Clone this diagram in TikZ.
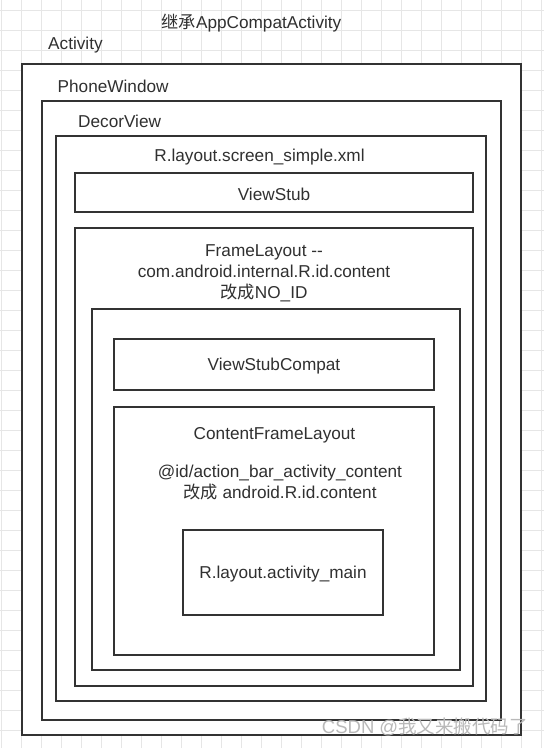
\documentclass[tikz,border=0pt]{standalone}
\usepackage{fontspec}
\setmainfont{Liberation Sans}
\newfontfamily\cjk{Noto Sans CJK SC}
\definecolor{boxline}{HTML}{333333}
\definecolor{gridline}{HTML}{E6E6E6}
\definecolor{txt}{HTML}{303030}
\tikzset{
  box/.style={draw=boxline, line width=2.6pt, fill=white, inner sep=0pt},
  lbl/.style={text=txt, font=\fontsize{17.2}{21}\selectfont, align=center, inner sep=0pt, yshift=-2pt},
  watermarktxt/.style={text=gray!55, font=\fontsize{18.5}{20}\selectfont, inner sep=0pt}
}

\begin{document}
\begin{tikzpicture}[x=1pt,y=-1pt]
\useasboundingbox (0,0) rectangle (544,748);
\fill[white] (0,0) rectangle (544,748);
\foreach \gx in {1.5,21.5,...,541.5} \draw[gridline, line width=0.8pt] (\gx,0) -- (\gx,748);
\foreach \gy in {10,30,...,740} \draw[gridline, line width=0.8pt] (0,\gy) -- (544,\gy);

                  \node[lbl] (extends) at (251.5,21) {{\cjk 继承}AppCompatActivity};
                  \node[lbl, anchor=west] (activitytxt) at (48,43) {Activity};
                  \node[box, minimum width=499, minimum height=671] (activity) at (271.5,399.5) {};
                  \node[lbl, anchor=west] (phonetxt) at (57.5,84) {PhoneWindow};
                  \node[box, minimum width=459, minimum height=619] (phone) at (271.5,410.5) {};
                  \node[lbl, anchor=west] (decortxt) at (78,119.5) {DecorView};
                  \node[box, minimum width=430, minimum height=565] (decor) at (271,418.5) {};
                  \node[lbl] (simpletxt) at (259.5,155) {R.layout.screen\_simple.xml};
                    \node[box, minimum width=398, minimum height=39] (viewstub) at (274,192.5) {};
                    \node[lbl] (viewstubtxt) at (viewstub) {ViewStub};
                    \node[box, minimum width=398, minimum height=458] (frame) at (274,457) {};
                    \node[lbl] (frametxt) at (264,271) {FrameLayout -{}-\\com.android.internal.R.id.content\\{\cjk 改成}NO\_ID};
                      \node[box, minimum width=368, minimum height=361] (inner) at (276,489.5) {};
                        \node[box, minimum width=320, minimum height=51] (compat) at (274,364.5) {};
                        \node[lbl] (compattxt) at (compat) {ViewStubCompat};
                        \node[box, minimum width=320, minimum height=248] (content) at (274,531) {};
                        \node[lbl] (contenttxt) at (274.5,433) {ContentFrameLayout};
                        \node[lbl] (actionbartxt) at (280,481) {@id/action\_bar\_activity\_content\\{\cjk 改成} android.R.id.content};
                          \node[box, minimum width=200, minimum height=85] (main) at (283,572.5) {};
                          \node[lbl] (maintxt) at (main) {R.layout.activity\_main};

                  \node[watermarktxt, anchor=east] (watermark) at (528,727) {CSDN @{\cjk 我又来搬代码了}};
\end{tikzpicture}
\end{document}
